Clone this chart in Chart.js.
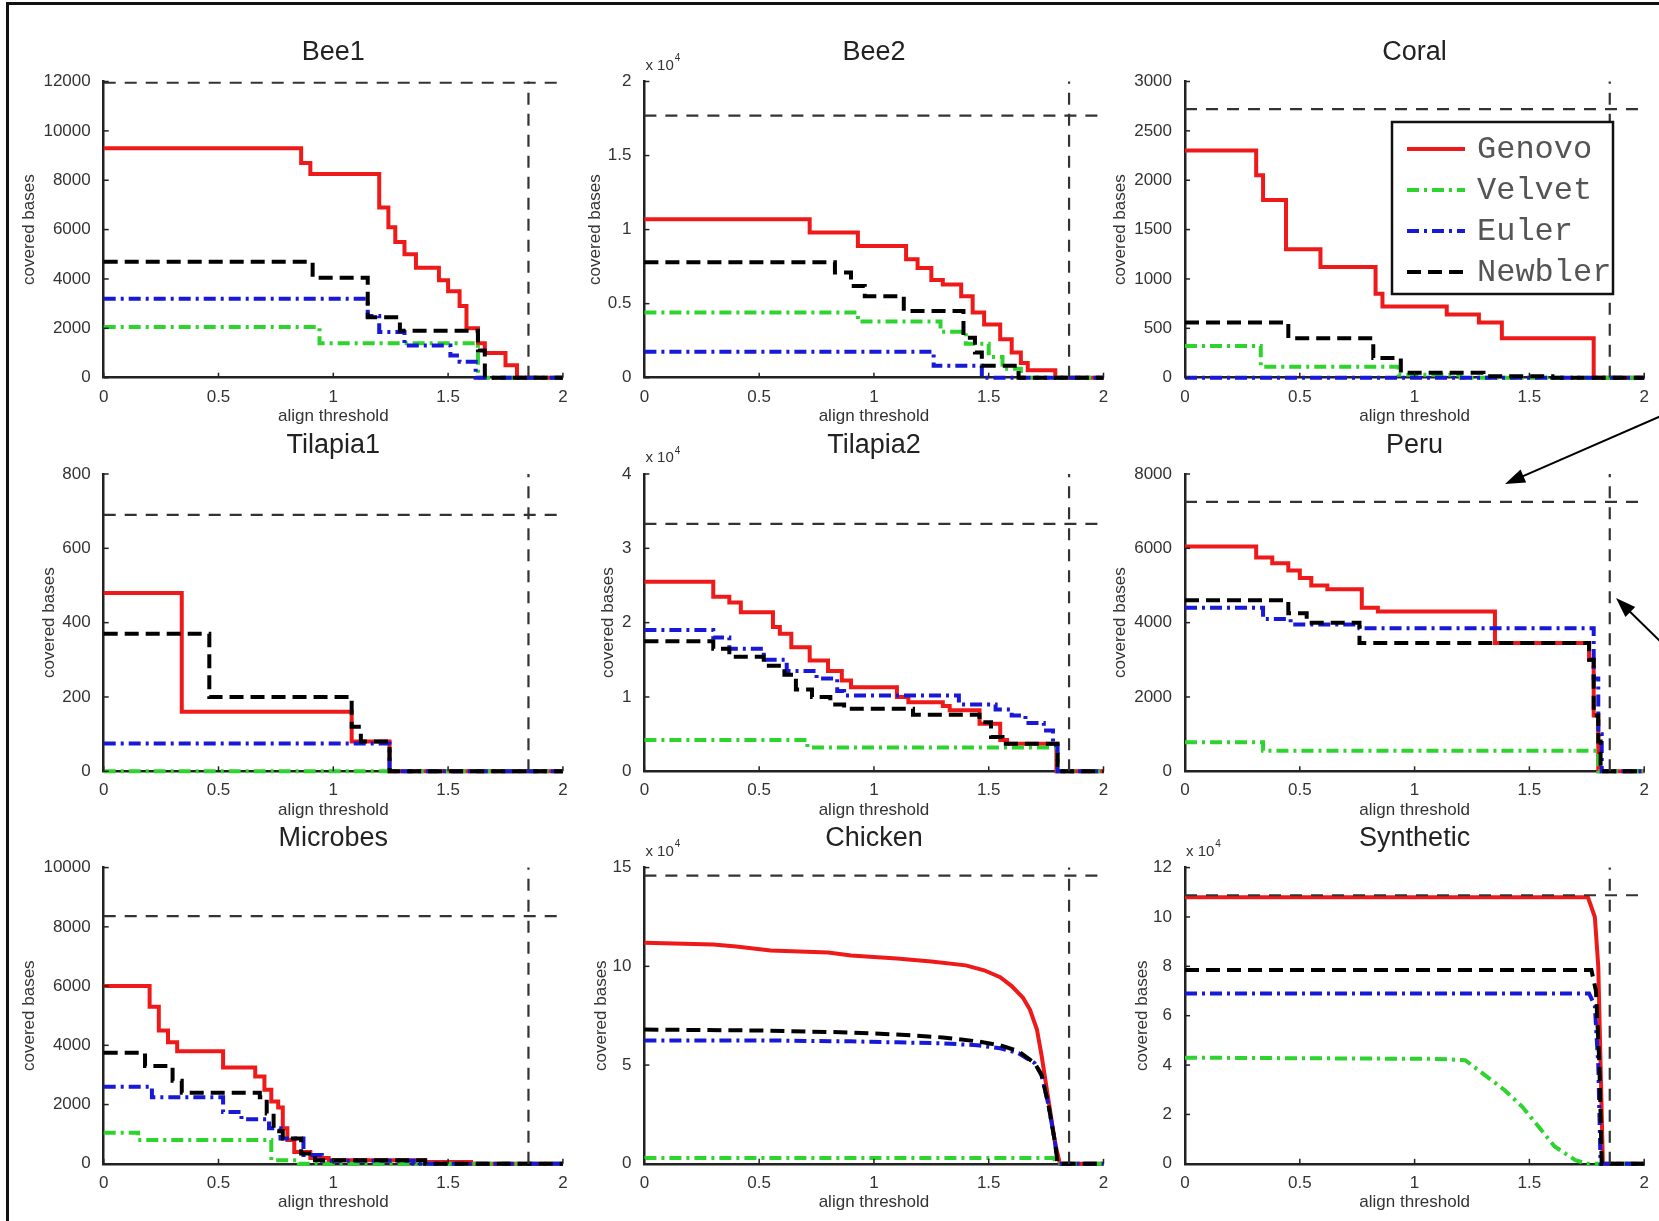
<!DOCTYPE html>
<html>
<head>
<meta charset="utf-8">
<script src="https://cdn.jsdelivr.net/npm/chart.js@4.4.1/dist/chart.umd.min.js"></script>
<style>
  html, body { margin: 0; padding: 0; background: #fff; }
  body { width: 1659px; height: 1221px; position: relative; overflow: hidden; }
  #frame { position: absolute; left: 6px; top: 2px; right: 0; bottom: 0; border-top: 3px solid #111; border-left: 3px solid #111; }
  canvas.panel { position: absolute; }
</style>
</head>
<body>
<div id="frame"></div>
<script>
// Panels in reading order
const panelTitles = ['Bee1', 'Bee2', 'Coral', 'Tilapia1', 'Tilapia2', 'Peru', 'Microbes', 'Chicken', 'Synthetic'];
const assemblers = ['Genovo', 'Velvet', 'Euler', 'Newbler'];

// y axis range per panel (exponent > 0 means ticks shown as x 10^n)
const yMax = [12000, 20000, 3000, 800, 40000, 8000, 10000, 150000, 120000];
const yStep = [2000, 5000, 500, 200, 10000, 2000, 2000, 50000, 20000];
const yExponent = [0, 4, 0, 0, 4, 0, 0, 4, 4];

// dashed reference lines
const refCoverage = [11950, 17700, 2720, 690, 33300, 7250, 8360, 145900, 108800];
const refThreshold = 1.85;

// curves: [align threshold, covered bases]
const bee1Genovo = [[0,9300],[0.86,8700],[0.9,8250],[1.2,6900],[1.24,6100],[1.27,5500],[1.31,5000],[1.36,4450],[1.46,3950],[1.5,3500],[1.55,2900],[1.58,2000],[1.63,1400],[1.66,1000],[1.75,500],[1.8,0],[2,0]];
const bee1Velvet = [[0,2050],[0.94,1400],[1.63,0],[2,0]];
const bee1Euler = [[0,3200],[1.15,2500],[1.2,1850],[1.31,1300],[1.51,900],[1.55,650],[1.62,0],[2,0]];
const bee1Newbler = [[0,4700],[0.91,4050],[1.15,2450],[1.29,1900],[1.63,1100],[1.66,0],[2,0]];

const bee2Genovo = [[0,10700],[0.72,9800],[0.93,8900],[1.14,8000],[1.19,7400],[1.25,6600],[1.3,6300],[1.38,5500],[1.43,4400],[1.48,3600],[1.55,2600],[1.6,1700],[1.64,1000],[1.67,500],[1.79,0],[2,0]];
const bee2Velvet = [[0,4400],[0.93,3800],[1.29,3100],[1.4,2300],[1.5,1400],[1.56,600],[1.64,0],[2,0]];
const bee2Euler = [[0,1750],[1.26,800],[1.47,0],[2,0]];
const bee2Newbler = [[0,7800],[0.83,7100],[0.9,6200],[0.96,5500],[1.13,4500],[1.39,2700],[1.44,1700],[1.47,800],[1.63,0],[2,0]];

const coralGenovo = [[0,2300],[0.31,2050],[0.34,1800],[0.44,1300],[0.59,1120],[0.83,850],[0.86,720],[1.14,640],[1.28,560],[1.38,400],[1.78,0],[2,0]];
const coralVelvet = [[0,320],[0.33,110],[0.93,30],[1.2,0],[2,0]];
const coralEuler = [[0,0],[2,0]];
const coralNewbler = [[0,560],[0.45,400],[0.82,200],[0.94,50],[1.3,15],[1.6,0],[2,0]];

const tilapia1Genovo = [[0,480],[0.34,160],[1.08,80],[1.245,0],[2,0]];
const tilapia1Velvet = [[0,0],[2,0]];
const tilapia1Euler = [[0,75],[1.245,0],[2,0]];
const tilapia1Newbler = [[0,370],[0.46,200],[1.08,120],[1.12,80],[1.245,0],[2,0]];

const tilapia2Genovo = [[0,25500],[0.3,23500],[0.37,22700],[0.42,21400],[0.56,19400],[0.59,18500],[0.64,16700],[0.72,14900],[0.8,13500],[0.86,12200],[0.9,11300],[1.1,10000],[1.15,9300],[1.3,8800],[1.33,8200],[1.46,6400],[1.55,4200],[1.58,3700],[1.795,0],[2,0]];
const tilapia2Velvet = [[0,4200],[0.71,3200],[1.8,0],[2,0]];
const tilapia2Euler = [[0,19000],[0.3,18000],[0.37,16500],[0.52,15000],[0.62,13500],[0.75,12500],[0.84,10800],[0.87,10200],[1.37,9000],[1.53,8300],[1.6,7500],[1.66,6500],[1.74,5500],[1.78,3500],[1.8,0],[2,0]];
const tilapia2Newbler = [[0,17500],[0.3,16500],[0.37,15400],[0.52,14200],[0.61,13000],[0.66,11000],[0.73,10000],[0.81,9000],[0.87,8400],[1.17,7600],[1.46,6600],[1.51,4600],[1.56,3700],[1.8,0],[2,0]];

const peruGenovo = [[0,6050],[0.31,5750],[0.38,5600],[0.45,5400],[0.5,5200],[0.55,5000],[0.62,4900],[0.77,4400],[0.84,4300],[1.35,3450],[1.76,3000],[1.78,1500],[1.8,0],[2,0]];
const peruVelvet = [[0,780],[0.34,550],[1.8,0],[2,0]];
const peruEuler = [[0,4400],[0.34,4100],[0.46,3950],[0.76,3850],[1.78,2500],[1.8,1000],[1.815,0],[2,0]];
const peruNewbler = [[0,4600],[0.45,4250],[0.53,4000],[0.76,3450],[1.76,3000],[1.78,1500],[1.8,800],[1.81,0],[2,0]];

const microbesGenovo = [[0,6000],[0.2,5300],[0.24,4500],[0.28,4100],[0.32,3800],[0.52,3250],[0.66,2950],[0.7,2500],[0.73,2100],[0.76,1900],[0.78,1200],[0.8,800],[0.83,400],[0.9,200],[0.98,120],[1.4,60],[1.6,0],[2,0]];
const microbesVelvet = [[0,1050],[0.15,800],[0.73,120],[0.85,0],[2,0]];
const microbesEuler = [[0,2600],[0.21,2250],[0.52,1750],[0.6,1500],[0.72,1200],[0.77,850],[0.87,300],[0.95,100],[1.35,0],[2,0]];
const microbesNewbler = [[0,3750],[0.18,3300],[0.3,2800],[0.34,2400],[0.68,2250],[0.71,1700],[0.74,1100],[0.78,850],[0.86,350],[0.92,120],[1.4,0],[2,0]];

const chickenGenovo = [[0,112000],[0.3,111000],[0.4,110000],[0.55,108000],[0.8,107000],[0.9,105500],[1.1,104000],[1.25,102500],[1.4,100500],[1.48,98000],[1.55,94500],[1.6,90000],[1.65,84000],[1.68,78000],[1.71,68000],[1.73,55000],[1.75,40000],[1.77,25000],[1.79,10000],[1.81,0],[2,0]];
const chickenVelvet = [[0,3000],[1.78,3000],[1.8,0],[2,0]];
const chickenEuler = [[0,62500],[0.5,62500],[0.9,62000],[1.1,61500],[1.3,61000],[1.45,60000],[1.55,58500],[1.63,56000],[1.7,51000],[1.73,45000],[1.76,30000],[1.79,10000],[1.8,0],[2,0]];
const chickenNewbler = [[0,68000],[0.5,67500],[0.9,66500],[1.1,65500],[1.3,64000],[1.45,62000],[1.55,60000],[1.63,57000],[1.7,51000],[1.73,45000],[1.76,30000],[1.79,10000],[1.8,0],[2,0]];

const syntheticGenovo = [[0,108000],[1.755,108000],[1.785,100000],[1.8,80000],[1.81,40000],[1.82,0],[2,0]];
const syntheticVelvet = [[0,43000],[1.1,42500],[1.22,42000],[1.39,30000],[1.47,23000],[1.61,7000],[1.7,1500],[1.75,0],[2,0]];
const syntheticEuler = [[0,69000],[1.76,69000],[1.785,64000],[1.8,40000],[1.81,0],[2,0]];
const syntheticNewbler = [[0,78500],[1.77,78500],[1.79,70000],[1.805,40000],[1.815,0],[2,0]];

const panelCurves = [
  [bee1Genovo, bee1Velvet, bee1Euler, bee1Newbler],
  [bee2Genovo, bee2Velvet, bee2Euler, bee2Newbler],
  [coralGenovo, coralVelvet, coralEuler, coralNewbler],
  [tilapia1Genovo, tilapia1Velvet, tilapia1Euler, tilapia1Newbler],
  [tilapia2Genovo, tilapia2Velvet, tilapia2Euler, tilapia2Newbler],
  [peruGenovo, peruVelvet, peruEuler, peruNewbler],
  [microbesGenovo, microbesVelvet, microbesEuler, microbesNewbler],
  [chickenGenovo, chickenVelvet, chickenEuler, chickenNewbler],
  [syntheticGenovo, syntheticVelvet, syntheticEuler, syntheticNewbler]
];
const panelStepped = [true, true, true, true, true, true, true, false, false];

// line styles
const seriesStyle = {
  Genovo: { color: '#ee1a1a', dash: [], order: 5 },
  Velvet: { color: '#2ed42e', dash: [12, 5, 3, 5], order: 4 },
  Euler: { color: '#1818d8', dash: [12, 5, 3, 5], order: 3 },
  Newbler: { color: '#000000', dash: [14, 7], order: 2 }
};

// page layout of the plot areas
const colLeft = [103.7, 644.4, 1185];
const colRight = [562.9, 1103.5, 1644.2];
const rowTop = [81.5, 474, 867.6];
const rowBottom = [377.7, 771.3, 1163.8];
const ylabelGap = [74, 49, 65, 54, 36, 65, 74, 43, 43];

const sansFont = "'Liberation Sans', Arial, sans-serif";
Chart.defaults.font.family = sansFont;
Chart.defaults.color = '#333';

function drawArrow(ctx, x1, y1, x2, y2) {
  const ang = Math.atan2(y2 - y1, x2 - x1);
  const len = 20, half = 7;
  ctx.save();
  ctx.strokeStyle = '#000';
  ctx.fillStyle = '#000';
  ctx.lineWidth = 2;
  ctx.setLineDash([]);
  ctx.beginPath();
  ctx.moveTo(x1, y1);
  ctx.lineTo(x2 - Math.cos(ang) * len * 0.8, y2 - Math.sin(ang) * len * 0.8);
  ctx.stroke();
  ctx.beginPath();
  ctx.moveTo(x2, y2);
  ctx.lineTo(x2 - Math.cos(ang) * len - Math.sin(ang) * half, y2 - Math.sin(ang) * len + Math.cos(ang) * half);
  ctx.lineTo(x2 - Math.cos(ang) * len + Math.sin(ang) * half, y2 - Math.sin(ang) * len - Math.cos(ang) * half);
  ctx.closePath();
  ctx.fill();
  ctx.restore();
}

function drawLegend(ctx, ox, oy) {
  const bx = 1392 - ox, by = 122 - oy, bw = 221, bh = 172;
  ctx.save();
  ctx.fillStyle = '#fff';
  ctx.fillRect(bx, by, bw, bh);
  ctx.strokeStyle = '#111';
  ctx.lineWidth = 2.5;
  ctx.setLineDash([]);
  ctx.strokeRect(bx, by, bw, bh);
  assemblers.forEach((name, k) => {
    const s = seriesStyle[name];
    const yy = by + 27 + k * 41;
    ctx.strokeStyle = s.color;
    ctx.lineWidth = 4;
    ctx.setLineDash(s.dash);
    ctx.beginPath();
    ctx.moveTo(bx + 15, yy);
    ctx.lineTo(bx + 73, yy);
    ctx.stroke();
    ctx.fillStyle = '#555';
    ctx.font = "32px 'Liberation Mono', 'Courier New', monospace";
    ctx.textAlign = 'left';
    ctx.textBaseline = 'middle';
    ctx.fillText(name, bx + 85, yy + 1);
  });
  ctx.restore();
}

function decorPlugin(i, cv) {
  return {
    id: 'decor',
    afterDatasetsDraw(chart) {
      // inward tick marks
      const { ctx, chartArea, scales } = chart;
      ctx.save();
      ctx.strokeStyle = '#222';
      ctx.lineWidth = 1.5;
      ctx.setLineDash([]);
      scales.x.ticks.forEach(t => {
        const px = scales.x.getPixelForValue(t.value);
        ctx.beginPath();
        ctx.moveTo(px, chartArea.bottom);
        ctx.lineTo(px, chartArea.bottom - 5);
        ctx.stroke();
      });
      scales.y.ticks.forEach(t => {
        const py = scales.y.getPixelForValue(t.value);
        ctx.beginPath();
        ctx.moveTo(chartArea.left, py);
        ctx.lineTo(chartArea.left + 5, py);
        ctx.stroke();
      });
      ctx.restore();
    },
    afterDraw(chart) {
      const { ctx, chartArea } = chart;
      ctx.save();
      ctx.fillStyle = '#222';
      ctx.font = '27px ' + sansFont;
      ctx.textAlign = 'center';
      ctx.textBaseline = 'middle';
      ctx.fillText(panelTitles[i], (chartArea.left + chartArea.right) / 2, chartArea.top - 28.6);
      if (yExponent[i] > 0) {
        ctx.fillStyle = '#333';
        ctx.textAlign = 'left';
        ctx.font = '15px ' + sansFont;
        const base = 'x 10';
        const bx = chartArea.left + 1, by = chartArea.top - 16;
        ctx.fillText(base, bx, by);
        const w = ctx.measureText(base).width;
        ctx.font = '10px ' + sansFont;
        ctx.fillText(String(yExponent[i]), bx + w + 1, by - 7);
      }
      ctx.restore();
      if (panelTitles[i] === 'Coral') {
        drawLegend(ctx, cv.left, cv.top);
      }
      if (panelTitles[i] === 'Peru') {
        drawArrow(ctx, 1661 - cv.left, 416 - cv.top, 1505 - cv.left, 484 - cv.top);
        drawArrow(ctx, 1661 - cv.left, 642 - cv.top, 1616 - cv.left, 598 - cv.top);
      }
    }
  };
}

function curveDataset(name, points, stepped) {
  const s = seriesStyle[name];
  return {
    label: name,
    data: points.map(p => ({ x: p[0], y: p[1] })),
    borderColor: s.color,
    borderWidth: 4,
    borderDash: s.dash,
    stepped: stepped ? 'before' : false,
    pointRadius: 0,
    fill: false,
    order: s.order,
    clip: false
  };
}

function refDataset(points) {
  return {
    label: 'reference',
    data: points,
    borderColor: '#333',
    borderWidth: 2.2,
    borderDash: [12, 9],
    pointRadius: 0,
    fill: false,
    order: 1,
    clip: false
  };
}

function makePanel(i) {
  const col = i % 3, row = Math.floor(i / 3);
  const area = { left: colLeft[col], right: colRight[col], top: rowTop[row], bottom: rowBottom[row] };
  const cv = {
    left: Math.floor(area.left - 100),
    top: Math.max(0, Math.floor(area.top - 80)),
    right: Math.min(1659, Math.ceil(area.right + 15)),
    bottom: Math.ceil(area.bottom + 58)
  };
  const canvas = document.createElement('canvas');
  canvas.className = 'panel';
  canvas.width = cv.right - cv.left;
  canvas.height = cv.bottom - cv.top;
  canvas.style.left = cv.left + 'px';
  canvas.style.top = cv.top + 'px';
  document.body.appendChild(canvas);

  const yWidth = ylabelGap[i] + 14.2;
  const xHeight = 53;
  const div = Math.pow(10, yExponent[i]);

  const datasets = assemblers.map((name, k) => curveDataset(name, panelCurves[i][k], panelStepped[i]));
  datasets.push(refDataset([{ x: 0, y: refCoverage[i] }, { x: 2, y: refCoverage[i] }]));
  datasets.push(refDataset([{ x: refThreshold, y: 0 }, { x: refThreshold, y: yMax[i] }]));

  new Chart(canvas.getContext('2d'), {
    type: 'line',
    data: { datasets: datasets },
    options: {
      responsive: false,
      animation: false,
      events: [],
      layout: {
        padding: {
          left: area.left - cv.left - yWidth,
          right: cv.right - area.right,
          top: area.top - cv.top,
          bottom: cv.bottom - area.bottom - xHeight
        }
      },
      plugins: {
        legend: { display: false },
        tooltip: { enabled: false },
        title: { display: false }
      },
      scales: {
        x: {
          type: 'linear',
          min: 0,
          max: 2,
          grid: { display: false },
          border: { display: true, color: '#222', width: 2.5 },
          ticks: {
            stepSize: 0.5,
            padding: 1,
            font: { size: 17 },
            color: '#333',
            maxRotation: 0,
            callback: v => String(+v.toFixed(2))
          },
          title: { display: true, text: 'align threshold', font: { size: 17 }, color: '#333', padding: { top: 4, bottom: 4 } },
          afterFit: scale => { scale.height = xHeight; }
        },
        y: {
          type: 'linear',
          min: 0,
          max: yMax[i],
          grid: { display: false },
          border: { display: true, color: '#222', width: 2.5 },
          ticks: {
            stepSize: yStep[i],
            padding: 5,
            font: { size: 17 },
            color: '#333',
            callback: v => String(+(v / div).toFixed(2))
          },
          title: { display: true, text: 'covered bases', font: { size: 17 }, color: '#333', padding: { top: 4, bottom: 4 } },
          afterFit: scale => { scale.width = yWidth; }
        }
      }
    },
    plugins: [decorPlugin(i, cv)]
  });
}

panelTitles.forEach((t, i) => makePanel(i));
</script>
</body>
</html>
